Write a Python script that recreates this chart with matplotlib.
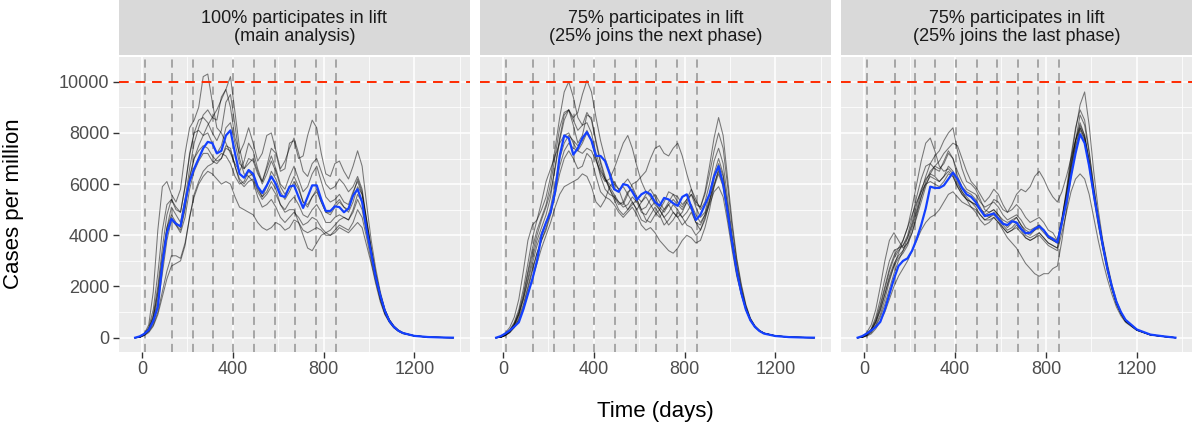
import matplotlib.pyplot as plt
from matplotlib.ticker import MultipleLocator

plt.rcParams['font.family'] = ['Liberation Sans', 'DejaVu Sans']

# time grid (days) shared by every simulated run and by the mean curve
days = [-30, -10, 10, 30, 50, 70, 90, 110, 130, 150,
        170, 190, 210, 230, 250, 270, 290, 310, 330, 350,
        370, 390, 410, 430, 450, 470, 490, 510, 530, 550,
        570, 590, 610, 630, 650, 670, 690, 710, 730, 750,
        770, 790, 810, 830, 850, 870, 890, 910, 930, 950,
        970, 990, 1010, 1030, 1050, 1070, 1090, 1110, 1130, 1150,
        1200, 1260, 1320, 1370]

# start of each lifting phase (dashed vertical lines)
phase_starts = [12, 133, 223, 313, 403, 494, 584, 675, 766, 857]

threshold = 10000

titles = ['100% participates in lift\n(main analysis)',
          '75% participates in lift\n(25% joins the next phase)',
          '75% participates in lift\n(25% joins the last phase)']

# ---- panel 1: 100% participates ----
mean_full = [0, 50, 150, 300, 650, 1200, 2900, 4100, 4640, 4450,
             4350, 5300, 6100, 6600, 7000, 7400, 7650, 7600, 7200, 7300,
             7900, 8100, 7200, 6400, 6250, 6550, 6400, 5900, 5650, 5950,
             6300, 6000, 5550, 5500, 5900, 5950, 5500, 5070, 5500, 5950,
             5950, 5400, 4950, 4950, 5130, 5100, 4900, 5050, 5550, 5800,
             5300, 4200, 3300, 2350, 1650, 1050, 650, 420, 270, 180,
             70, 25, 8, 0]

runs_full = [
    [0, 20, 150, 500, 1800, 4200, 5900, 6100, 5600, 5300,
     5800, 7200, 8200, 8500, 9000, 10200, 10300, 9200, 8200, 8000,
     7600, 7200, 6800, 6500, 6900, 7600, 7300, 6600, 6100, 6600,
     7100, 6600, 6000, 5800, 6300, 6700, 6200, 5700, 5900, 6400,
     6700, 6100, 5500, 5300, 5400, 5600, 5300, 5200, 5700, 6100,
     5600, 4400, 3400, 2400, 1600, 1000, 650, 400, 260, 170,
     70, 25, 8, 0],
    [0, 20, 120, 300, 700, 1500, 2800, 4300, 5100, 4800,
     4500, 5400, 6600, 7600, 8200, 8700, 8900, 8600, 8500, 9400,
     9700, 10200, 8800, 7400, 6600, 6800, 7000, 6500, 6000, 6400,
     6900, 6500, 5900, 5600, 5900, 6300, 5900, 5300, 5100, 5500,
     5800, 5300, 4900, 4800, 5100, 5300, 5100, 5000, 5600, 6200,
     5700, 4500, 3400, 2400, 1600, 1000, 650, 420, 270, 180,
     70, 25, 8, 0],
    [0, 20, 150, 350, 900, 2000, 3500, 4800, 5400, 5100,
     4900, 5900, 7200, 8000, 8100, 7900, 8300, 8600, 8900, 9300,
     9700, 9000, 7800, 7200, 7600, 8200, 7600, 6900, 7200, 7900,
     8000, 7300, 6600, 6900, 7400, 7800, 7200, 6500, 6300, 6800,
     7000, 6500, 6000, 5800, 5900, 6200, 6000, 5700, 5900, 6300,
     5800, 4600, 3500, 2500, 1700, 1100, 700, 450, 290, 190,
     75, 25, 8, 0],
    [0, 20, 100, 250, 600, 1300, 2500, 3800, 4600, 4400,
     4200, 5000, 6200, 7000, 7500, 7900, 8000, 7600, 7200, 7500,
     8200, 8400, 7600, 6800, 6600, 7000, 6900, 6400, 6100, 6700,
     7400, 7200, 6500, 6600, 7600, 7700, 7000, 7100, 7900, 8500,
     8200, 7200, 6400, 6300, 6800, 6900, 6500, 6200, 6700, 7300,
     6700, 5200, 3800, 2700, 1800, 1100, 700, 450, 290, 190,
     75, 25, 8, 0],
    [0, 20, 120, 300, 800, 1800, 3200, 4300, 4800, 4500,
     4300, 5100, 6300, 7000, 7300, 7500, 7400, 7100, 6900, 7000,
     7400, 7300, 6700, 6200, 6000, 6300, 6400, 5900, 5500, 5700,
     6100, 5800, 5200, 4900, 5000, 5000, 4500, 4000, 3500, 3400,
     3700, 4000, 4100, 4200, 4400, 4600, 4700, 4600, 5000, 5600,
     5300, 4300, 3300, 2300, 1600, 1000, 650, 410, 270, 170,
     70, 25, 8, 0],
    [0, 15, 100, 250, 500, 1000, 1800, 2600, 3200, 3200,
     3100, 3700, 4700, 5500, 6000, 6300, 6500, 6400, 6200, 6000,
     6100, 6000, 5500, 5100, 5000, 4900, 4800, 4500, 4300, 4200,
     4300, 4500, 4400, 4200, 4300, 4600, 4500, 4200, 4100, 4200,
     4300, 4200, 4000, 4000, 4100, 4300, 4200, 4100, 4300, 4500,
     4300, 3600, 2900, 2100, 1400, 900, 600, 380, 250, 160,
     65, 22, 7, 0],
    [0, 20, 130, 320, 800, 1700, 3000, 4200, 4700, 4400,
     4100, 4700, 5800, 6500, 6900, 7200, 7200, 6900, 6800, 7000,
     7500, 7400, 6700, 6100, 5900, 6100, 6200, 5700, 5400, 5600,
     5900, 5600, 5200, 5000, 5300, 5500, 5200, 4800, 4700, 5000,
     5200, 4900, 4500, 4500, 4700, 4800, 4700, 4600, 4900, 5400,
     5000, 4100, 3200, 2300, 1500, 950, 620, 400, 260, 170,
     70, 25, 8, 0],
    [0, 10, 80, 200, 450, 900, 1600, 2300, 2800, 2900,
     3000, 3600, 4700, 5600, 6100, 6500, 6700, 6800, 7000, 7200,
     7100, 6800, 6300, 6000, 6100, 6500, 6300, 5800, 5500, 5900,
     6500, 6200, 5700, 5400, 5700, 6100, 5800, 5300, 5200, 5500,
     5700, 5300, 4900, 4900, 5200, 5400, 5100, 4900, 5300, 5900,
     5600, 4600, 3500, 2500, 1700, 1100, 700, 450, 290, 190,
     75, 25, 8, 0],
    [0, 20, 140, 400, 1100, 2500, 4200, 5200, 5400, 5000,
     4900, 5900, 7100, 8000, 8500, 8600, 8400, 8000, 7700, 8100,
     9200, 9500, 8300, 7000, 6400, 6300, 6100, 5500, 5100, 5200,
     5400, 5100, 4700, 4500, 4700, 4900, 4700, 4400, 4500, 4700,
     4600, 4300, 4100, 4000, 4200, 4400, 4300, 4200, 4500, 5000,
     4700, 3900, 3000, 2200, 1500, 950, 620, 400, 260, 170,
     70, 25, 8, 0],
]

# ---- panel 2: 75% participates, 25% joins the next phase ----
mean_next = [0, 60, 160, 280, 430, 600, 1100, 1700, 2300, 3000,
             4000, 4500, 4900, 5700, 7100, 7900, 7800, 7150, 7400, 7800,
             8030, 7700, 7100, 7100, 6900, 6400, 5800, 5700, 6000, 5950,
             5700, 5390, 5600, 5700, 5600, 5300, 5150, 5460, 5400, 5250,
             5150, 5500, 5600, 5100, 4600, 4800, 5200, 5600, 6300, 6700,
             6000, 4900, 3700, 2600, 1750, 1100, 680, 420, 260, 160,
             65, 22, 7, 0]

runs_next = [
    [0, 20, 120, 300, 600, 1100, 1900, 2900, 3900, 4600,
     5000, 5500, 6300, 7400, 8600, 9600, 10000, 9400, 8600, 8300,
     8400, 8000, 7200, 6600, 6200, 6000, 5800, 5700, 6000, 6200,
     5900, 5500, 5300, 5600, 5800, 5500, 5100, 4900, 5200, 5400,
     5200, 5000, 5300, 5600, 5100, 4700, 4900, 5600, 6400, 7000,
     6400, 5100, 3800, 2700, 1800, 1150, 700, 430, 270, 170,
     70, 25, 8, 0],
    [0, 20, 100, 250, 500, 900, 1500, 2300, 3100, 3800,
     4300, 4800, 5500, 6700, 7800, 8700, 8900, 8600, 8800, 9500,
     10050, 9600, 8600, 7700, 7000, 6500, 6000, 5800, 5900, 5600,
     5300, 5000, 5300, 5500, 5200, 4900, 4700, 5000, 5200, 4900,
     4700, 4900, 5300, 5000, 4500, 4400, 4800, 5300, 5900, 6400,
     5900, 4700, 3600, 2500, 1700, 1100, 680, 420, 260, 170,
     70, 25, 8, 0],
    [0, 30, 180, 400, 800, 1500, 2600, 3800, 4400, 4600,
     5300, 6100, 6600, 7100, 7600, 7900, 8000, 7600, 7300, 7200,
     7400, 7300, 6900, 6500, 6200, 5900, 5600, 5300, 5100, 5200,
     5500, 5300, 4900, 4800, 5100, 5300, 5000, 4700, 4900, 5200,
     5000, 4700, 4900, 5200, 4800, 4500, 4800, 5400, 6000, 6500,
     6000, 4900, 3700, 2600, 1800, 1150, 700, 430, 270, 170,
     70, 25, 8, 0],
    [0, 20, 100, 250, 500, 900, 1500, 2200, 2900, 3600,
     4100, 4500, 5100, 6000, 7000, 7600, 7900, 7700, 7500, 7700,
     8100, 7700, 7000, 6400, 6100, 6200, 6600, 7100, 7600, 7900,
     7400, 6700, 6100, 5700, 5500, 5200, 5000, 5300, 5700, 5600,
     5300, 5100, 5400, 5800, 5400, 5000, 5300, 6000, 6900, 7400,
     6800, 5400, 4000, 2800, 1900, 1200, 720, 440, 270, 170,
     70, 25, 8, 0],
    [0, 15, 80, 200, 400, 700, 1200, 1900, 2600, 3300,
     3800, 4300, 4900, 5700, 6700, 7300, 7600, 7400, 7300, 7600,
     8000, 7700, 7000, 6300, 5800, 5600, 5500, 5300, 5200, 5600,
     6000, 6100, 6300, 6500, 7000, 7400, 7500, 7200, 7100, 7400,
     7600, 7100, 6400, 5800, 5200, 5100, 5600, 6400, 7300, 8000,
     7400, 5900, 4300, 3000, 2000, 1250, 750, 460, 280, 180,
     72, 25, 8, 0],
    [0, 15, 90, 220, 450, 800, 1300, 2000, 2700, 3300,
     3800, 4200, 4800, 5600, 6400, 7000, 7300, 7000, 6600, 6700,
     7200, 7000, 6300, 5700, 5500, 5400, 5200, 4900, 4700, 4900,
     5100, 4800, 4400, 4200, 4300, 4100, 3800, 3600, 3400, 3300,
     3500, 3800, 4000, 3900, 3700, 3800, 4300, 5000, 5900, 6600,
     6100, 4900, 3700, 2600, 1800, 1150, 700, 430, 270, 170,
     70, 25, 8, 0],
    [0, 15, 80, 200, 400, 700, 1100, 1700, 2300, 2900,
     3500, 4000, 4500, 5100, 5600, 5900, 6000, 6100, 6200, 6400,
     6300, 5900, 5300, 5100, 5400, 5900, 6100, 5800, 5300, 5000,
     5200, 5400, 5000, 4600, 4500, 4800, 5000, 4700, 4400, 4600,
     4900, 4700, 4400, 4300, 4000, 4200, 4700, 5200, 5700, 5900,
     5500, 4500, 3400, 2400, 1700, 1100, 680, 420, 260, 170,
     70, 25, 8, 0],
    [0, 20, 110, 280, 550, 1000, 1700, 2600, 3500, 4200,
     4700, 5200, 6000, 7100, 8200, 8800, 8900, 8500, 8100, 8300,
     8800, 8500, 7600, 6800, 6200, 5800, 5500, 5200, 5300, 5700,
     5800, 5400, 5000, 5100, 5400, 5600, 5300, 5000, 5300, 5600,
     5500, 5200, 5400, 5600, 5300, 5100, 5700, 6700, 7800, 8600,
     7900, 6200, 4500, 3100, 2100, 1300, 760, 460, 280, 180,
     72, 25, 8, 0],
    [0, 20, 110, 270, 520, 950, 1600, 2500, 3300, 4000,
     4600, 5100, 5700, 6600, 7700, 8500, 8900, 8300, 7600, 7900,
     8700, 8600, 7700, 6900, 6300, 5800, 5400, 5000, 4800, 5000,
     5300, 5000, 4600, 4500, 4800, 5100, 4800, 4400, 4600, 4900,
     4700, 4400, 4600, 4900, 4500, 4200, 4600, 5300, 6200, 6800,
     6300, 5100, 3800, 2700, 1800, 1150, 700, 430, 270, 170,
     70, 25, 8, 0],
]

# ---- panel 3: 75% participates, 25% joins the last phase ----
mean_last = [0, 60, 160, 280, 420, 620, 1100, 1700, 2300, 2800,
             3000, 3100, 3400, 3850, 4400, 5050, 5900, 5850, 5850, 5950,
             6200, 6450, 6200, 5850, 5600, 5500, 5300, 5000, 4750, 4800,
             4850, 4650, 4450, 4400, 4550, 4500, 4250, 4080, 4100, 4250,
             4350, 4200, 3950, 3850, 3720, 4500, 5300, 6300, 7200, 7950,
             7600, 6700, 5600, 4600, 3600, 2700, 2000, 1400, 1000, 700,
             320, 120, 50, 0]

runs_last = [
    [0, 30, 200, 500, 1100, 2000, 3000, 3800, 4100, 3800,
     3500, 3700, 4300, 4900, 5500, 6000, 6300, 6200, 6100, 6300,
     6500, 6300, 5900, 5600, 5400, 5300, 5200, 5000, 4800, 4900,
     5000, 4800, 4600, 4500, 4600, 4700, 4400, 4200, 4100, 4200,
     4300, 4100, 3900, 3800, 3700, 4600, 5600, 6700, 7700, 8400,
     7900, 6900, 5700, 4600, 3600, 2700, 1950, 1350, 950, 650,
     300, 110, 45, 0],
    [0, 20, 120, 300, 650, 1200, 1900, 2600, 3100, 3400,
     3600, 3900, 4400, 5000, 5700, 6300, 6800, 7100, 7300, 7700,
     8000, 8200, 7300, 6600, 6100, 6000, 5800, 5400, 5000, 4900,
     5000, 4800, 4500, 4300, 4500, 4700, 4400, 4100, 4000, 4200,
     4400, 4200, 3900, 3800, 3700, 4500, 5400, 6500, 7500, 8200,
     7800, 6800, 5600, 4500, 3500, 2700, 1950, 1350, 950, 650,
     300, 110, 45, 0],
    [0, 20, 130, 320, 700, 1300, 2000, 2700, 3200, 3500,
     3800, 4300, 5100, 6000, 6900, 7600, 7800, 7300, 6700, 6500,
     6600, 6400, 6000, 5700, 5500, 5300, 5100, 4800, 4600, 4700,
     4900, 4700, 4400, 4200, 4300, 4500, 4300, 4000, 3900, 4000,
     4100, 3900, 3700, 3600, 3500, 4400, 5400, 6600, 7700, 8700,
     8300, 7200, 5900, 4700, 3700, 2800, 2000, 1400, 980, 670,
     300, 110, 45, 0],
    [0, 20, 110, 280, 600, 1100, 1700, 2400, 2900, 3200,
     3400, 3700, 4100, 4700, 5300, 5900, 6400, 6700, 6900, 7200,
     7400, 7600, 7500, 7000, 6500, 6100, 5900, 5600, 5300, 5500,
     5800, 5600, 5200, 4900, 5000, 5200, 5000, 4700, 4500, 4600,
     4700, 4500, 4200, 4100, 3800, 4600, 5600, 6900, 8100, 9100,
     9600, 8300, 6500, 5000, 3800, 2900, 2100, 1450, 1000, 690,
     310, 115, 45, 0],
    [0, 15, 90, 230, 500, 900, 1500, 2200, 2800, 3300,
     3800, 4300, 4800, 5300, 5700, 6000, 6100, 6000, 5900, 6100,
     6400, 6300, 5900, 5600, 5400, 5300, 5200, 5000, 4900, 5100,
     5400, 5300, 5000, 4900, 5200, 5600, 5800, 5700, 5900, 6300,
     6500, 6200, 5800, 5500, 5300, 5700, 6300, 7000, 7700, 8200,
     7800, 6900, 5700, 4600, 3600, 2700, 1950, 1350, 950, 650,
     300, 110, 45, 0],
    [0, 15, 80, 200, 450, 800, 1300, 1900, 2500, 3000,
     3400, 3900, 4500, 5200, 5800, 6200, 6400, 6300, 6100, 6300,
     6700, 6500, 6100, 5700, 5400, 5100, 4900, 4600, 4400, 4500,
     4700, 4500, 4200, 3900, 3700, 3500, 3200, 2900, 2700, 2500,
     2400, 2500, 2500, 2700, 2800, 3800, 5000, 6300, 7400, 8100,
     7700, 6700, 5500, 4400, 3500, 2600, 1900, 1300, 930, 640,
     300, 110, 45, 0],
    [0, 10, 60, 150, 350, 650, 1000, 1500, 2000, 2400,
     2700, 3000, 3400, 3800, 4200, 4500, 4700, 4800, 5000, 5300,
     5600, 5700, 5500, 5300, 5200, 5100, 5000, 4800, 4600, 4600,
     4700, 4500, 4300, 4100, 4200, 4300, 4100, 3900, 3800, 3900,
     4000, 3800, 3600, 3500, 3400, 4100, 4900, 5700, 6200, 6400,
     6200, 5600, 4700, 3800, 3000, 2300, 1700, 1200, 850, 600,
     280, 105, 42, 0],
    [0, 20, 140, 350, 800, 1500, 2300, 3000, 3400, 3500,
     3600, 4000, 4700, 5500, 6200, 6700, 6800, 6600, 6500, 6900,
     7300, 7000, 6300, 5900, 5700, 5600, 5400, 5100, 4800, 4700,
     4800, 4600, 4300, 4100, 4200, 4400, 4200, 3900, 3800, 3900,
     4100, 3900, 3700, 3600, 3500, 4600, 5800, 7100, 8200, 8900,
     8500, 7300, 5900, 4700, 3700, 2800, 2000, 1400, 980, 670,
     300, 110, 45, 0],
    [0, 20, 110, 280, 600, 1050, 1700, 2300, 2800, 3100,
     3300, 3600, 4100, 4800, 5500, 6100, 6500, 6700, 6600, 6800,
     7200, 7000, 6500, 6100, 5800, 5700, 5600, 5300, 5100, 5200,
     5300, 5100, 4800, 4600, 4700, 4800, 4600, 4300, 4200, 4300,
     4400, 4200, 4000, 3900, 3800, 4700, 5700, 6800, 7700, 8300,
     7900, 6900, 5700, 4600, 3600, 2700, 1950, 1350, 950, 650,
     300, 110, 45, 0],
]

panels = [(runs_full, mean_full), (runs_next, mean_next), (runs_last, mean_last)]

W, H = 1192.0, 432.0
fig = plt.figure(figsize=(W / 100, H / 100), dpi=100)
lefts = [119, 480, 841.5]
pw = 350.5

for i, (runs, mean) in enumerate(panels):
    ax = fig.add_axes([lefts[i] / W, (H - 351.5) / H, pw / W, 295 / H])
    ax.set_facecolor('#EBEBEB')
    for s in ax.spines.values():
        s.set_visible(False)
    ax.set_xlim(-101, 1443)
    ax.set_ylim(-540, 10985)
    ax.xaxis.set_major_locator(MultipleLocator(400))
    ax.xaxis.set_minor_locator(MultipleLocator(200))
    ax.yaxis.set_major_locator(MultipleLocator(2000))
    ax.yaxis.set_minor_locator(MultipleLocator(1000))
    ax.grid(which='major', color='white', lw=1.1)
    ax.grid(which='minor', color='white', lw=0.55)
    ax.set_axisbelow(True)
    ax.tick_params(which='minor', length=0)
    ax.tick_params(which='major', length=4.5, width=1.0, color='#333333',
                   labelsize=13, labelcolor='#4D4D4D', pad=2.5)
    if i > 0:
        ax.tick_params(axis='y', left=False, labelleft=False)

    for d in phase_starts:
        ax.axvline(d, color='#A0A0A0', lw=1.3, ls=(0, (4.5, 3)), zorder=1.5)
    for run in runs:
        ax.plot(days, run, color='black', alpha=0.5, lw=0.75, zorder=2)
    ax.plot(days, mean, color='#1440FF', lw=1.6, zorder=3)
    ax.axhline(threshold, color='#FF2A00', lw=1.4, ls=(0, (5, 3.5)), zorder=4)

    strip = fig.add_axes([lefts[i] / W, (H - 55) / H, pw / W, 55 / H])
    strip.set_facecolor('#D9D9D9')
    strip.set_xticks([])
    strip.set_yticks([])
    for s in strip.spines.values():
        s.set_visible(False)
    strip.text(0.5, 0.5, titles[i], ha='center', va='center', fontsize=13,
               color='#1A1A1A', linespacing=1.15, transform=strip.transAxes)

fig.text(14 / W, 1 - 204 / H, 'Cases per million', rotation=90,
         ha='center', va='center', fontsize=16)
fig.text(655 / W, 1 - 412 / H, 'Time (days)', ha='center', va='center',
         fontsize=16)

fig.savefig('out.png', dpi=100)
